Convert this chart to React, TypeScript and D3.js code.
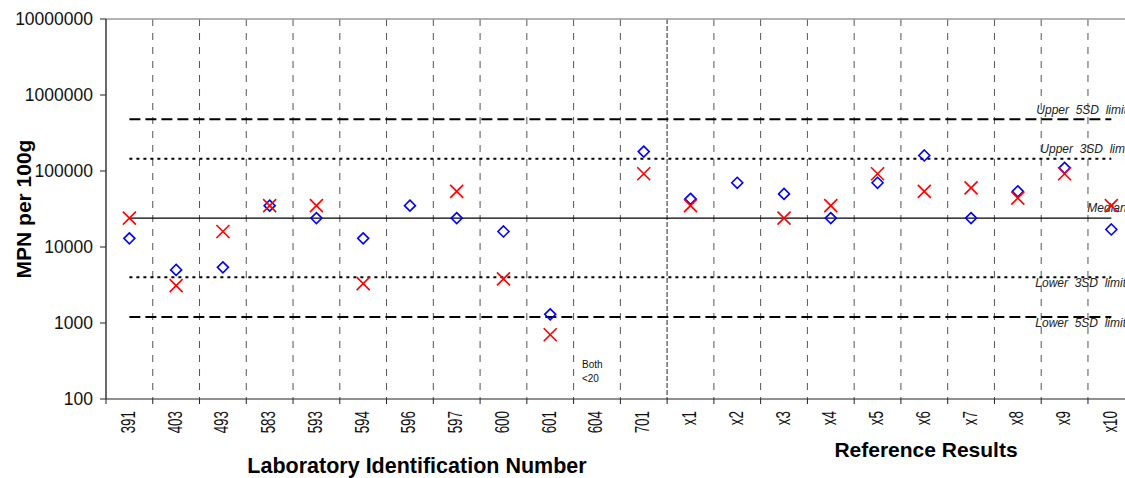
import React from 'react';
import * as d3 from 'd3';

const categories = ['391','403','493','583','593','594','596','597','600','601','604','701','x1','x2','x3','x4','x5','x6','x7','x8','x9','x10'];
const diamondValues: (number | null)[] = [13000, 5000, 5400, 35000, 24000, 13000, 35000, 24000, 16000, 1300, null, 180000, 43000, 70000, 50000, 24000, 70000, 160000, 24000, 54000, 110000, 17000];
const crossValues: (number | null)[] = [24000, 3100, 16000, 35000, 35000, 3300, null, 54000, 3800, 700, null, 92000, 35000, null, 24000, 35000, 92000, 54000, 60000, 44000, 92000, 35000];
const yTicks = [100, 1000, 10000, 100000, 1000000, 10000000];
const refNames = ['Upper  5SD  limit', 'Upper  3SD  limit', 'Median', 'Lower  3SD  limit', 'Lower  5SD  limit'];
const refValues = [480000, 145000, 24000, 4000, 1200];
const noteCategory = '604';
const noteLines = ['Both', '<20'];

const W = 1125, H = 478;
const left = 106, top = 19, bottom = 399;
const bandW = 46.76;

export default function App() {
  const x = d3.scaleBand<string>().domain(categories).range([left, left + bandW * categories.length]).padding(0);
  const y = d3.scaleLog().domain([100, 1e7]).range([bottom, top]);
  const bw = x.bandwidth();
  const cx = (c: string) => (x(c) as number) + bw / 2;
  const right = left + bw * categories.length;
  const first = cx(categories[0]);
  const last = cx(categories[categories.length - 1]);
  const boundaries = categories.map((c) => (x(c) as number) + bw);
  const splitIdx = categories.indexOf('701');

  const refStyles = [
    { dash: '11,5', w: 2, solid: false },
    { dash: '3,4', w: 2, solid: false },
    { dash: '', w: 1.3, solid: true },
    { dash: '3,4', w: 2, solid: false },
    { dash: '11,5', w: 2, solid: false },
  ];
  const labelOffsets = [
    { dx: -75, dy: -5 },
    { dx: -71, dy: -6 },
    { dx: -24, dy: -6 },
    { dx: -76, dy: 10 },
    { dx: -76, dy: 10 },
  ];

  const dsz = 5.5;
  const xsz = 6.5;

  return (
    <div style={{ position: 'absolute', left: 0, top: 0 }}>
      <svg width={W} height={H} style={{ display: 'block', fontFamily: '"Liberation Sans", Arial, sans-serif' }}>
        <rect x={0} y={0} width={W} height={H} fill="#fff" />
        {/* vertical grid lines */}
        {boundaries.map((b, i) => (
          i === splitIdx ? (
            <line key={'g' + i} x1={b} x2={b} y1={top} y2={bottom} stroke="#777" strokeWidth={1.6} strokeDasharray="5,2" />
          ) : (
            <line key={'g' + i} x1={b} x2={b} y1={top} y2={bottom} stroke="#555" strokeWidth={1} strokeDasharray="7,7" />
          )
        ))}
        {/* top border */}
        <line x1={left} x2={right} y1={top} y2={top} stroke="#999" strokeWidth={1.5} />
        {/* reference lines */}
        {refValues.map((v, i) => (
          <line key={'r' + i} x1={first} x2={last} y1={y(v)} y2={y(v)} stroke="#000" strokeWidth={refStyles[i].w}
            strokeDasharray={refStyles[i].solid ? undefined : refStyles[i].dash} />
        ))}
        {refValues.map((v, i) => (
          <text key={'rl' + i} x={last + labelOffsets[i].dx} y={y(v) + labelOffsets[i].dy} fontSize={12} fontStyle="italic"
            fill="#222" style={{ whiteSpace: 'pre' }}>{refNames[i]}</text>
        ))}
        {/* axes */}
        <line x1={left} x2={left} y1={top} y2={bottom} stroke="#444" strokeWidth={1.6} />
        <line x1={left} x2={right} y1={bottom} y2={bottom} stroke="#222" strokeWidth={1.2} />
        {yTicks.map((t) => (
          <g key={'yt' + t}>
            <line x1={left - 6} x2={left} y1={y(t)} y2={y(t)} stroke="#444" strokeWidth={1.2} />
            <text x={93} y={y(t)} dy="0.36em" textAnchor="end" fontSize={17.5} fill="#111">{t}</text>
          </g>
        ))}
        {[left, ...boundaries].map((b, i) => (
          <line key={'xt' + i} x1={b} x2={b} y1={bottom} y2={bottom + 5} stroke="#222" strokeWidth={1} />
        ))}
        {categories.map((c) => (
          <text key={'xl' + c} transform={`translate(${cx(c) + 5.5},${411}) rotate(-90) scale(0.67,1)`} textAnchor="end"
            fontSize={20} fill="#111">{c}</text>
        ))}
        {/* data markers */}
        {categories.map((c, i) => {
          const v = diamondValues[i];
          if (v == null) return null;
          const px = cx(c), py = y(v);
          return <path key={'d' + c} d={`M${px},${py - dsz}L${px + dsz},${py}L${px},${py + dsz}L${px - dsz},${py}Z`}
            fill="none" stroke="#0000ff" strokeWidth={1.6} />;
        })}
        {categories.map((c, i) => {
          const v = crossValues[i];
          if (v == null) return null;
          const px = cx(c), py = y(v);
          return <path key={'x' + c} d={`M${px - xsz},${py - xsz}L${px + xsz},${py + xsz}M${px - xsz},${py + xsz}L${px + xsz},${py - xsz}`}
            fill="none" stroke="#ff0000" strokeWidth={1.6} />;
        })}
        {/* note */}
        {noteLines.map((t, i) => (
          <text key={'n' + i} x={cx(noteCategory) - 15} y={368 + i * 14} fontSize={10} fill="#111">{t}</text>
        ))}
        {/* axis titles */}
        <text transform={`translate(31,${(top + bottom) / 2}) rotate(-90)`} textAnchor="middle" fontSize={21} fontWeight="bold" fill="#000">MPN per 100g</text>
        <text x={417} y={473} textAnchor="middle" fontSize={21.5} fontWeight="bold" fill="#000">Laboratory Identification Number</text>
        <text x={926} y={457} textAnchor="middle" fontSize={21} fontWeight="bold" fill="#000">Reference Results</text>
      </svg>
    </div>
  );
}
